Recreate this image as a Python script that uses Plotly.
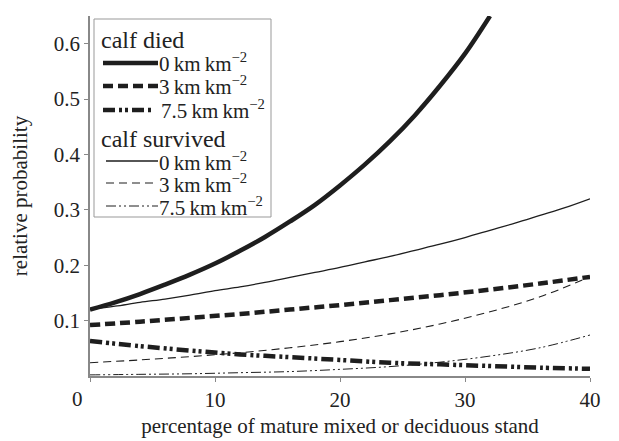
import plotly.graph_objects as go

# x positions (percentage of mature mixed or deciduous stand)
x_died0 = [0, 2, 4, 6, 8, 10, 12, 14, 16, 18, 20, 22, 24, 26, 28, 30, 32]
died_0 = [0.120, 0.133, 0.148, 0.165, 0.183, 0.203, 0.226, 0.251, 0.279, 0.309,
          0.344, 0.382, 0.424, 0.471, 0.524, 0.582, 0.650]

x_surv0 = [0, 2, 4, 6, 8, 10, 12, 14, 16, 18, 20, 22, 24, 26, 28, 30, 32, 34, 36, 38, 40]
surv_0 = [0.120, 0.126, 0.133, 0.139, 0.146, 0.154, 0.161, 0.169, 0.178, 0.187,
          0.196, 0.206, 0.216, 0.227, 0.238, 0.250, 0.263, 0.276, 0.290, 0.304, 0.320]

x_step4 = [0, 4, 8, 12, 16, 20, 24, 28, 32, 36, 40]
died_3 = [0.092, 0.098, 0.105, 0.112, 0.120, 0.128, 0.137, 0.146, 0.156, 0.167, 0.179]
surv_3 = [0.024, 0.029, 0.035, 0.042, 0.051, 0.062, 0.076, 0.094, 0.116, 0.143, 0.179]
died_75 = [0.063, 0.054, 0.046, 0.039, 0.034, 0.029, 0.024, 0.021, 0.018, 0.015, 0.013]
surv_75 = [0.002, 0.003, 0.004, 0.006, 0.008, 0.012, 0.017, 0.025, 0.036, 0.051, 0.074]

y_ticks = [0.1, 0.2, 0.3, 0.4, 0.5, 0.6]
y_ticklabels = ["0.1", "0.2", "0.3", "0.4", "0.5", "0.6"]
x_ticks = [0, 10, 20, 30, 40]
x_ticklabels = ["", "10", "20", "30", "40"]
corner_label = "0"

group_titles = ["calf died", "calf survived"]
road_labels = ["0", "3", "7.5"]

LINE = "#1e1e1e"
TXT = "#222"
FONT = "Liberation Serif"
UNIT = "\u2009km\u2009km<sup>−2</sup>"

W, H = 619, 441
# the page body adds an 8px offset; margins compensate so the plot area
# lands at screen x 90..590, y 16..376
OFF = 8
SX0, SX1, SY0, SY1 = 90, 590, 16, 376
ML, MT = SX0 - OFF, SY0 - OFF
MR, MB = W - (SX1 - OFF), H - (SY1 - OFF)


def px(xs):
    return (xs - SX0) / (SX1 - SX0)


def py(ys):
    return (SY1 - ys) / (SY1 - SY0)


def fnt(size):
    return dict(family=FONT, size=size, color=TXT)


fig = go.Figure()

styles = [
    # (x, y, width, dash)
    (x_died0, died_0, 4.5, "solid"),
    (x_step4, died_3, 4.5, "10px,5px"),
    (x_step4, died_75, 4.5, "12px,4px,3px,3px,3px,4px"),
    (x_surv0, surv_0, 1.3, "solid"),
    (x_step4, surv_3, 1.1, "8px,5px"),
    (x_step4, surv_75, 1.0, "10px,3px,2px,3px,2px,3px"),
]
names = [g + " " + r + " km km-2" for g in group_titles for r in road_labels]

for (x, y, w, d), nm in zip(styles, names):
    fig.add_trace(go.Scatter(
        x=x, y=y, mode="lines", name=nm, showlegend=False,
        line=dict(color=LINE, width=w, dash=d, shape="spline")))

# ---- legend drawn as a framed box ----
shapes = [dict(type="rect", xref="paper", yref="paper",
               x0=px(94), x1=px(271), y0=py(217), y1=py(19),
               line=dict(color="#999", width=1), fillcolor="white", layer="above")]
annotations = []

header_y = [40, 139]
row_y = [[63, 86, 110], [161, 183, 206]]
line_x = [[(103, 158), (103, 158), (103, 152)], [(106, 158), (106, 158), (106, 158)]]
text_x = [[157, 157, 159], [157, 157, 157]]

for g in range(2):
    annotations.append(dict(xref="paper", yref="paper", x=px(99), y=py(header_y[g]),
                            xanchor="left", yanchor="middle", showarrow=False,
                            text=group_titles[g], font=fnt(24)))
    for r in range(3):
        _, _, w, d = styles[g * 3 + r]
        x0, x1 = line_x[g][r]
        shapes.append(dict(type="line", xref="paper", yref="paper",
                           x0=px(x0), x1=px(x1), y0=py(row_y[g][r]), y1=py(row_y[g][r]),
                           line=dict(color=LINE, width=w, dash=d), layer="above"))
        annotations.append(dict(xref="paper", yref="paper", x=px(text_x[g][r]),
                                y=py(row_y[g][r]), xanchor="left", yanchor="middle",
                                showarrow=False, text=road_labels[r] + UNIT,
                                font=fnt(21)))

# corner "0" label of the x axis
annotations.append(dict(xref="paper", yref="paper", x=px(77), y=py(399),
                        xanchor="center", yanchor="middle", showarrow=False,
                        text=corner_label, font=fnt(21)))

fig.update_layout(
    width=W, height=H,
    margin=dict(l=ML, r=MR, t=MT, b=MB, autoexpand=False),
    paper_bgcolor="white", plot_bgcolor="white",
    font=fnt(21),
    showlegend=False,
    shapes=shapes,
    annotations=annotations,
    xaxis=dict(
        range=[0, 40], tickvals=x_ticks, ticktext=x_ticklabels,
        showgrid=False, zeroline=False, automargin=False,
        showline=True, linecolor="#888", linewidth=1.5,
        ticks="outside", ticklen=4, tickcolor="#888", tickwidth=1,
        tickfont=fnt(21),
        title=dict(text="percentage of mature mixed or deciduous stand",
                   font=fnt(21), standoff=7),
    ),
    yaxis=dict(
        range=[0, 0.65], tickvals=y_ticks, ticktext=y_ticklabels,
        showgrid=False, zeroline=False, automargin=False,
        showline=True, linecolor="#888", linewidth=1.5,
        ticks="outside", ticklen=4, tickcolor="#888", tickwidth=1,
        tickfont=fnt(21),
        title=dict(text="relative probability", font=fnt(21), standoff=22),
    ),
)

fig.write_html("out.html")
